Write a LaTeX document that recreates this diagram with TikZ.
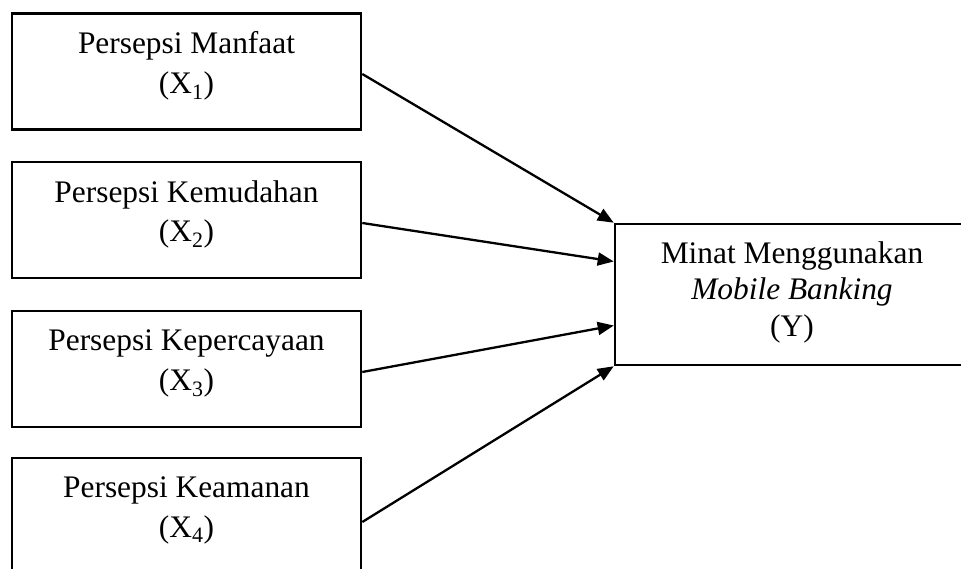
\documentclass[tikz,border=0pt]{standalone}
\usepackage{fontspec}
\setmainfont{Liberation Serif}
\usetikzlibrary{arrows.meta,calc}
\begin{document}
\begin{tikzpicture}[x=1bp,y=-1bp,
  varbox/.style={draw,line width=2.6bp,minimum width=349bp,minimum height=116bp,inner sep=0pt,align=center,
    text depth=18bp,font=\fontsize{31.5}{39.5}\selectfont},
  ybox/.style={draw,line width=2.6bp,minimum width=354bp,minimum height=141bp,inner sep=0pt,align=center,
    text depth=11bp,font=\fontsize{31.5}{37}\selectfont},
  link/.style={line width=2.3bp,-{Triangle[length=16bp,width=13bp]}}]
\useasboundingbox (0,0) rectangle (961,569);
\clip (0,0) rectangle (961,569);
\node[varbox] (b1) at (186.5,71.5) {Persepsi Manfaat\\(X\textsubscript{1})};
\node[varbox] (b2) at (186.5,220) {Persepsi Kemudahan\\(X\textsubscript{2})};
\node[varbox] (b3) at (186.5,369) {Persepsi Kepercayaan\\(X\textsubscript{3})};
\node[varbox] (b4) at (186.5,516) {Persepsi Keamanan\\(X\textsubscript{4})};
\node[ybox] (y) at (792,294.5) {Minat Menggunakan\\\textit{Mobile Banking}\\(Y)};
\coordinate (e2) at ($(y.north west)!0.27!(y.south west)$);
\coordinate (e3) at ($(y.north west)!0.716!(y.south west)$);
\draw[link] ([yshift=-2.5bp]b1.east) -- (y.north west);
\draw[link] ([yshift=-3bp]b2.east) -- (e2);
\draw[link] ([yshift=-3bp]b3.east) -- (e3);
\draw[link] ([yshift=-6bp]b4.east) -- (y.south west);
\end{tikzpicture}
\end{document}
